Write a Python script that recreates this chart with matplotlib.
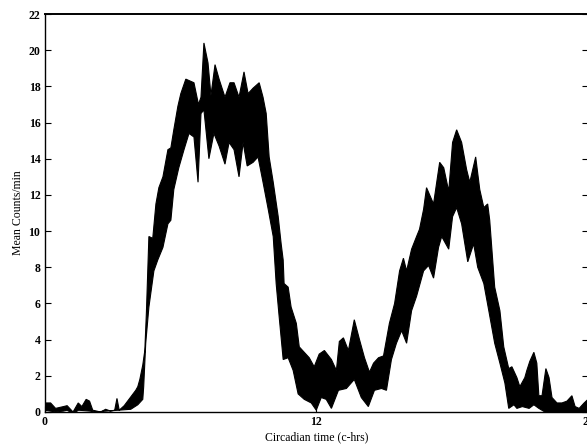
import numpy as np
import matplotlib
matplotlib.use("Agg")
import matplotlib.pyplot as plt

# upper edge of the band (hours, mean counts/min)
upper_t = [0, 0.27, 0.49, 0.84, 1.0, 1.26, 1.49, 1.65, 1.84, 1.99, 2.13, 2.48, 2.70, 2.92,
           3.10, 3.20, 3.30, 3.52, 3.85, 4.03, 4.12, 4.21, 4.34, 4.43, 4.50, 4.61, 4.78,
           4.92, 5.05, 5.23, 5.45, 5.58, 5.71, 5.89, 6.02, 6.24, 6.60, 6.80, 6.91, 7.04,
           7.22, 7.35, 7.53, 7.71, 7.97, 8.19, 8.37, 8.59, 8.81, 8.99, 9.21, 9.48, 9.65,
           9.79, 9.92, 10.10, 10.32, 10.45, 10.54, 10.58, 10.76, 10.89, 11.12, 11.25,
           11.47, 11.69, 11.91, 12.13, 12.36, 12.67, 12.89, 13.02, 13.20, 13.42, 13.68,
           13.91, 14.13, 14.35, 14.53, 14.75, 14.97, 15.23, 15.46, 15.68, 15.85, 15.99,
           16.21, 16.43, 16.56, 16.74, 16.87, 17.18, 17.32, 17.45, 17.63, 17.85, 18.02,
           18.20, 18.42, 18.64, 18.78, 19.04, 19.22, 19.40, 19.57, 19.66, 19.88, 20.11,
           20.28, 20.50, 20.64, 20.86, 20.99, 21.21, 21.30, 21.43, 21.61, 21.74, 21.83,
           21.97, 22.14, 22.28, 22.41, 22.63, 22.85, 23.07, 23.29, 23.43, 23.61, 23.83, 24.0]
upper_y = [0.5, 0.5, 0.2, 0.3, 0.35, 0.0, 0.5, 0.3, 0.7, 0.6, 0.1, 0.0, 0.15, 0.05,
           0.1, 0.75, 0.1, 0.35, 0.9, 1.2, 1.4, 1.8, 2.6, 3.4, 5.5, 9.7, 9.6,
           11.5, 12.4, 13.0, 14.5, 14.6, 15.6, 16.9, 17.6, 18.4, 18.2, 17.0, 17.4, 20.4,
           19.3, 17.5, 19.2, 18.4, 17.4, 18.2, 18.2, 17.4, 18.8, 17.6, 17.9, 18.2, 17.4,
           16.5, 14.1, 12.7, 10.8, 9.3, 8.4, 7.1, 6.9, 5.8, 4.9, 3.6,
           3.3, 3.0, 2.5, 3.2, 3.4, 2.9, 2.3, 3.9, 4.1, 3.4, 5.1,
           4.0, 3.0, 2.2, 2.7, 3.0, 3.1, 4.9, 6.0, 7.8, 8.5, 7.8,
           9.0, 9.7, 10.1, 11.2, 12.4, 11.5, 12.7, 13.8, 13.5, 12.2, 14.9,
           15.6, 14.9, 13.4, 12.7, 14.1, 12.3, 11.3, 11.5, 10.6, 6.9, 5.6,
           3.6, 2.4, 2.5, 1.9, 1.4, 1.9, 2.3, 2.8, 3.3, 2.7, 0.9,
           0.9, 2.4, 1.9, 0.8, 0.5, 0.5, 0.6, 0.9, 0.3, 0.2, 0.5, 0.7]

# lower edge of the band
lower_t = [0, 0.5, 0.84, 1.0, 1.26, 1.5, 2.0, 2.2, 3.81, 4.12, 4.34, 4.38, 4.47, 4.61,
           4.83, 5.00, 5.23, 5.45, 5.58, 5.71, 5.93, 6.16, 6.38, 6.60, 6.78, 6.91, 7.04,
           7.26, 7.48, 7.71, 7.97, 8.15, 8.37, 8.59, 8.77, 8.95, 9.21, 9.43, 9.65, 9.88,
           10.10, 10.23, 10.36, 10.54, 10.76, 10.98, 11.20, 11.47, 11.78, 12.0, 12.22,
           12.44, 12.67, 12.98, 13.33, 13.68, 13.99, 14.30, 14.57, 14.88, 15.10, 15.32,
           15.54, 15.77, 15.99, 16.21, 16.43, 16.74, 16.96, 17.18, 17.40, 17.54, 17.85,
           18.02, 18.20, 18.42, 18.69, 18.95, 19.13, 19.40, 19.62, 19.88, 20.11, 20.33,
           20.50, 20.73, 20.86, 21.1, 21.4, 21.61, 21.83, 22.10, 24.0]
lower_y = [0.1, 0.0, 0.05, 0.1, -0.1, 0.1, 0.05, 0.0, 0.15, 0.4, 0.7, 1.4, 3.8, 5.8,
           7.8, 8.4, 9.1, 10.4, 10.6, 12.3, 13.5, 14.5, 15.4, 15.2, 12.7, 16.5, 16.7,
           14.0, 15.4, 14.7, 13.7, 14.9, 14.5, 13.0, 14.9, 13.6, 13.8, 14.1, 12.7, 11.2,
           9.7, 7.1, 5.3, 2.9, 3.0, 2.3, 1.0, 0.7, 0.5, 0.1, 0.8,
           0.7, 0.2, 1.2, 1.3, 1.8, 0.8, 0.3, 1.2, 1.3, 1.2, 2.9,
           3.8, 4.5, 3.8, 5.6, 6.4, 7.8, 8.1, 7.4, 9.1, 9.7, 9.0,
           10.8, 11.3, 10.4, 8.3, 9.3, 8.0, 7.1, 5.6, 3.8, 2.7, 1.6,
           0.2, 0.4, 0.2, 0.3, 0.2, 0.4, 0.2, 0.0, 0.0]

x_ticks = [0, 12, 24]
y_ticks = list(range(0, 23, 2))

plt.rcParams['font.family'] = ['Liberation Serif', 'DejaVu Serif']

fig = plt.figure(figsize=(5.87, 4.48), dpi=100)
# right edge sits just past the image, as in the scanned original
ax = fig.add_axes([44.5 / 587, 1 - 412 / 448, 543.5 / 587, 398 / 448])

# band = upper edge forward, lower edge backward
poly_t = np.concatenate([upper_t, lower_t[::-1]])
poly_y = np.concatenate([upper_y, lower_y[::-1]])
ax.fill(poly_t, poly_y, color='black', linewidth=0.8, edgecolor='black')

ax.set_xlim(0, 24)
ax.set_ylim(0, 22)
ax.set_xticks(x_ticks)
ax.set_yticks(y_ticks)
ax.tick_params(direction='in', length=4, width=0.8, top=False, right=True,
               labelsize=8.5, pad=3)
for lab in ax.get_xticklabels() + ax.get_yticklabels():
    lab.set_fontweight('bold')
for s in ax.spines.values():
    s.set_linewidth(1.0)
ax.spines['top'].set_linewidth(1.4)

ax.set_xlabel("Circadian time (c-hrs)", fontsize=8.5, labelpad=2)
ax.set_ylabel("Mean Counts/min", fontsize=8.5, labelpad=3)

fig.savefig("out.png", dpi=100)
